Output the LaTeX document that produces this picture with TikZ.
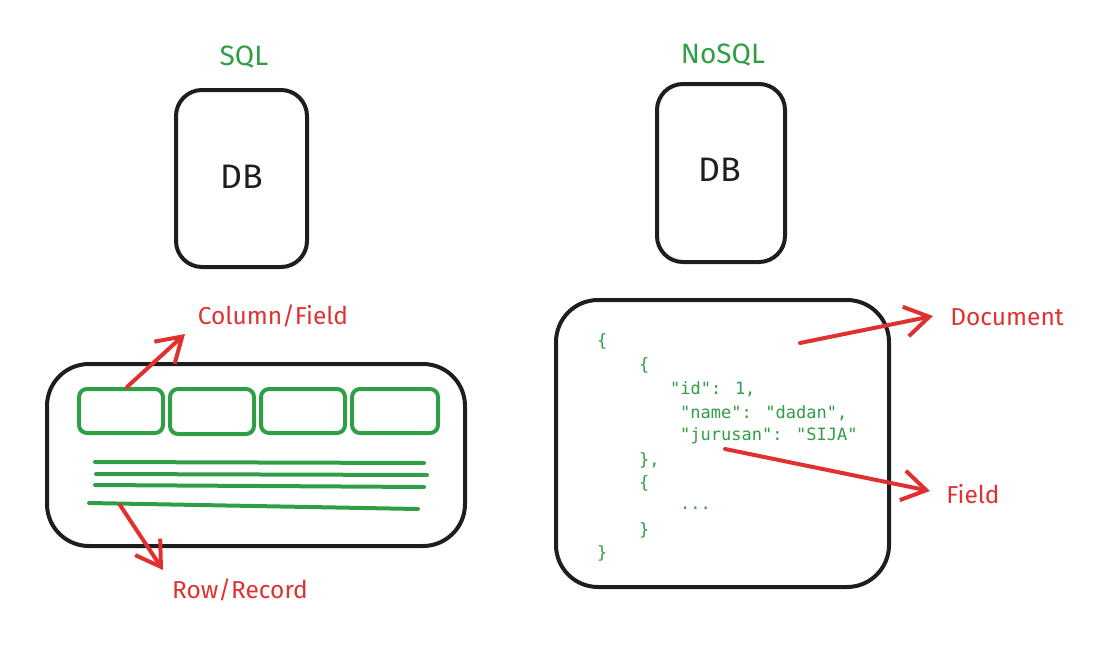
\documentclass[tikz,border=0pt]{standalone}
\usepackage{fontspec}
\setmainfont{Fira Sans}
\newfontfamily\codefont{DejaVu Sans Mono}
\usetikzlibrary{arrows.meta}
\definecolor{exgreen}{HTML}{2F9E44}
\definecolor{exred}{HTML}{E03131}
\definecolor{exblack}{HTML}{1E1E1E}
\tikzset{
  box/.style={draw=exblack, line width=4pt, line join=round},
  cell/.style={draw=exgreen, line width=4pt, rounded corners=8pt},
  rowline/.style={draw=exgreen, line width=4pt, line cap=round},
  arr/.style={draw=exred, line width=4pt, line cap=round, line join=round,
    -{Straight Barb[length=24pt,width=30pt,line width=4pt]}},
  title/.style={text=exgreen, font=\fontsize{28}{32}\selectfont},
  lbl/.style={text=exred, font=\fontsize{24.5}{28}\selectfont},
  dbt/.style={text=exblack, font=\fontsize{34}{38}\selectfont},
  code/.style={text=exgreen, font=\codefont\fontsize{17}{20}\selectfont, anchor=west, inner sep=0pt},
}
\begin{document}
\begin{tikzpicture}[x=1pt,y=-1pt]
\useasboundingbox (0,0) rectangle (1104,645);
% titles
\node[title] (sqlt) at (244,57) {SQL};
\node[title] (nosqlt) at (723,55) {NoSQL};
% DB boxes
\draw[box, rounded corners=26pt] (176,90) rectangle (307,267);
\node[dbt] (db1) at (242,177) {DB};
\draw[box, rounded corners=26pt] (657,84) rectangle (785,262);
\node[dbt] (db2) at (720,170) {DB};
% SQL table
\draw[box, rounded corners=42pt] (47,364) rectangle (465,546);
\draw[cell] (79,389) rectangle (163,433);
\draw[cell] (170,389) rectangle (254,434);
\draw[cell] (261,389) rectangle (345,433);
\draw[cell] (352,389) rectangle (438,433);
\draw[rowline] (95,462) -- (424,463);
\draw[rowline] (96,474) -- (427,475);
\draw[rowline] (95,485) -- (424,487);
\draw[rowline] (89,503) -- (418,509);
% SQL arrows
\coordinate (colstart) at (127,387);
\coordinate (colend) at (185,334);
\node[lbl] (coll) at (273,316) {Column/Field};
\draw[arr] (colstart) -- (colend);
\coordinate (rowstart) at (120,505);
\coordinate (rowend) at (163,570);
\node[lbl] (rowl) at (240,590) {Row/Record};
\draw[arr] (rowstart) -- (rowend);
% NoSQL document
\draw[box, rounded corners=42pt] (556,300) rectangle (889,587);
\node[code] (c1) at (597,341) {\{};
\node[code] (c2) at (639,365) {\{};
\node[code] (c3) at (670,389) {"id": 1,};
\node[code] (c4) at (680,413) {"name": "dadan",};
\node[code] (c5) at (680,436) {"jurusan": "SIJA"};
\node[code] (c6) at (639,460) {\},};
\node[code] (c7) at (639,483) {\{};
\node[code] (c8) at (680,508) {...};
\node[code] (c9) at (639,530) {\}};
\node[code] (c10) at (597,553) {\}};
% NoSQL arrows
\coordinate (docstart) at (800,343);
\coordinate (docend) at (933,316);
\node[lbl] (docl) at (1007,317) {Document};
\draw[arr] (docstart) -- (docend);
\coordinate (fstart) at (725,449);
\coordinate (fend) at (930,491);
\node[lbl] (fl) at (973,494) {Field};
\draw[arr] (fstart) -- (fend);
\end{tikzpicture}
\end{document}
